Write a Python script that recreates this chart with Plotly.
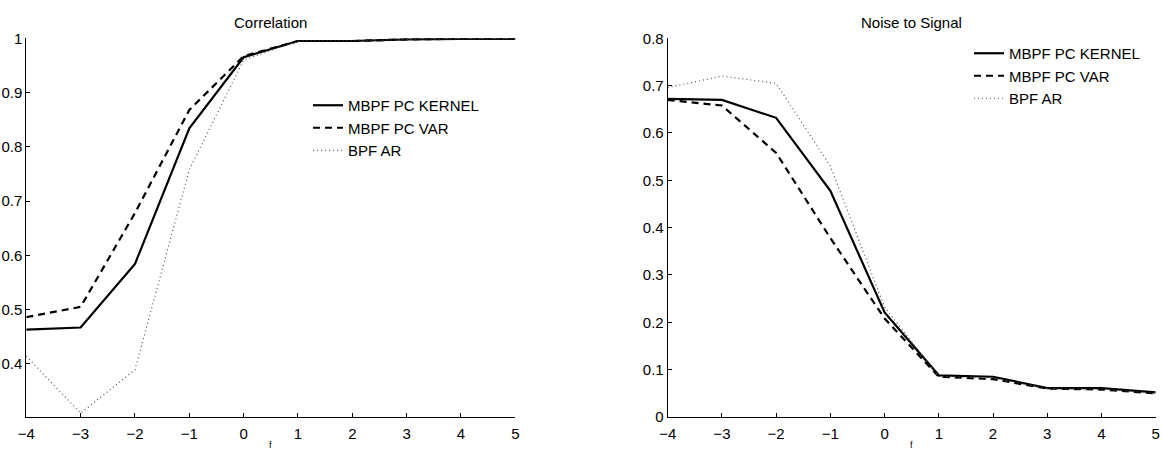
import plotly.graph_objects as go

W, H = 1162, 449

# horizon values shared by both panels
f = [-4, -3, -2, -1, 0, 1, 2, 3, 4, 5]

# correlation panel
corr_kernel = [0.463, 0.467, 0.584, 0.834, 0.965, 0.995, 0.995, 0.998, 0.999, 0.999]
corr_var = [0.486, 0.505, 0.678, 0.868, 0.967, 0.995, 0.995, 0.998, 0.999, 0.999]
corr_ar = [0.414, 0.309, 0.389, 0.758, 0.960, 0.995, 0.995, 0.998, 0.999, 0.999]

# noise-to-signal panel
nts_kernel = [0.672, 0.670, 0.632, 0.478, 0.221, 0.088, 0.085, 0.061, 0.061, 0.052]
nts_var = [0.670, 0.658, 0.558, 0.378, 0.208, 0.085, 0.080, 0.060, 0.058, 0.050]
nts_ar = [0.696, 0.720, 0.705, 0.530, 0.232, 0.086, 0.082, 0.060, 0.059, 0.050]

series_names = ["MBPF PC KERNEL", "MBPF PC VAR", "BPF AR"]
panel_titles = ["Correlation", "Noise to Signal"]
x_label = "f"

FONT = "Liberation Sans, Arial, Helvetica, sans-serif"
FS = 15

styles = [
    dict(color="black", width=2.2, dash="solid"),
    dict(color="black", width=2.2, dash="7px,5px"),
    dict(color="#555555", width=1.2, dash="1px,3px"),
]


def px_x(p):
    return p / W


def px_y(p):
    return 1 - p / H


fig = go.Figure()

panels = [
    ("x", "y", "legend", [corr_kernel, corr_var, corr_ar]),
    ("x2", "y2", "legend2", [nts_kernel, nts_var, nts_ar]),
]
for xa, ya, lg, data in panels:
    for name, ys, st in zip(series_names, data, styles):
        fig.add_trace(go.Scatter(
            x=f, y=ys, mode="lines", name=name, line=st,
            xaxis=xa, yaxis=ya, legend=lg, showlegend=True,
        ))

top, bottom = 38.3, 417.0
left_dom = [px_x(26.3), px_x(515.3)]
right_dom = [px_x(667.7), px_x(1155.7)]
ydom = [px_y(bottom), px_y(top)]

axis_common = dict(
    showline=True, linecolor="black", linewidth=1, mirror=False,
    ticks="inside", ticklen=4, tickcolor="black", tickwidth=1,
    showgrid=False, zeroline=False, automargin=False,
    tickfont=dict(family=FONT, size=FS, color="black"),
)
x_extra = dict(range=[-4, 5], dtick=1, tick0=0, ticklabelstandoff=3)

fig.update_layout(
    width=W, height=H,
    margin=dict(l=0, r=0, t=0, b=0),
    paper_bgcolor="white", plot_bgcolor="white",
    font=dict(family=FONT, size=FS, color="black"),
    xaxis=dict(domain=left_dom, anchor="y", **x_extra, **axis_common),
    yaxis=dict(domain=ydom, range=[0.302, 1.0], dtick=0.1, tick0=0, anchor="x", **axis_common),
    xaxis2=dict(domain=right_dom, anchor="y2", **x_extra, **axis_common),
    yaxis2=dict(domain=ydom, range=[0, 0.8], dtick=0.1, tick0=0, anchor="x2", **axis_common),
    legend=dict(
        x=px_x(308), y=px_y(89), xanchor="left", yanchor="top",
        bgcolor="rgba(0,0,0,0)", borderwidth=0,
        font=dict(family=FONT, size=FS, color="black"), tracegroupgap=0,
    ),
    legend2=dict(
        x=px_x(969), y=px_y(37), xanchor="left", yanchor="top",
        bgcolor="rgba(0,0,0,0)", borderwidth=0,
        font=dict(family=FONT, size=FS, color="black"), tracegroupgap=0,
    ),
    showlegend=True,
)

# panel titles and x-axis labels
for title, dom in zip(panel_titles, [left_dom, right_dom]):
    cx = (dom[0] + dom[1]) / 2
    fig.add_annotation(
        text=title, x=cx, y=px_y(22), xref="paper", yref="paper",
        xanchor="center", yanchor="middle", showarrow=False,
        font=dict(family=FONT, size=FS, color="black"),
    )
    fig.add_annotation(
        text=x_label, x=cx, y=px_y(445), xref="paper", yref="paper",
        xanchor="center", yanchor="middle", showarrow=False,
        font=dict(family=FONT, size=9, color="black"),
    )

fig.write_html("out.html")
